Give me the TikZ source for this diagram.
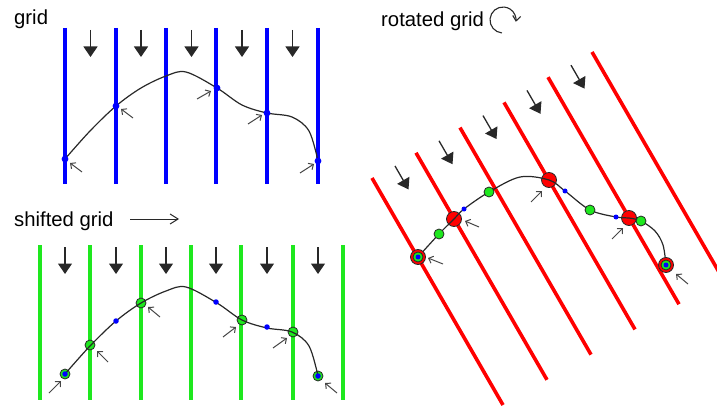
\documentclass[tikz,border=0pt]{standalone}
\usepackage{fontspec}
\setmainfont{Liberation Sans}
\usetikzlibrary{arrows.meta}
\definecolor{gblue}{RGB}{0,0,255}
\definecolor{ggreen}{RGB}{30,232,30}
\definecolor{gred}{RGB}{255,0,0}
\definecolor{gptr}{RGB}{70,70,70}
\definecolor{gink}{RGB}{40,40,40}
\begin{document}
\begin{tikzpicture}[x=1pt,y=-1pt,
  gridline/.style={line width=3.6pt},
  bluegrid/.style={gridline,draw=gblue},
  greengrid/.style={gridline,draw=ggreen},
  redgrid/.style={gridline,draw=gred},
  downarrow/.style={draw=gink,line width=1.3pt,-{Triangle[length=10.5pt,width=14pt]}},
  pointer/.style={draw=gptr,line width=1pt,-{Straight Barb[length=4pt,width=7.5pt]}},
  curveline/.style={draw=gink,line width=1.2pt},
  bluedot/.style={circle,fill=gblue,inner sep=0pt,minimum size=5.5pt},
  greendot/.style={circle,draw=gink,fill=ggreen,line width=0.8pt,inner sep=0pt,minimum size=10pt},
  reddot/.style={circle,draw=gink,fill=gred,line width=0.8pt,inner sep=0pt,minimum size=15pt},
  label/.style={anchor=base west,inner sep=0pt,font=\fontsize{20.3}{22}\selectfont}]
\useasboundingbox (0,0) rectangle (717,406);
\clip (0,0) rectangle (717,406);

% ---------------- labels
\node[label] (tgrid) at (14,25) {grid};
\node[label] (tshift) at (14,226.5) {shifted grid};
\node[label] (trot) at (381,26.5) {rotated grid};
\coordinate (sa) at (130,219);
\coordinate (sb) at (179,219);
\draw[draw=gink,line width=1pt,-{Straight Barb[length=8pt,width=10pt]}] (sa) -- (sb);
\draw[draw=gink,line width=1.1pt,-{Straight Barb[length=5pt,width=8pt]}]
  (503,20) ++(95:13) arc[start angle=95,end angle=368,radius=13];

\def\curvepts{(65,159) (90,131) (116,106) (141,88) (166,76) (186,72) (217,88) (242,105) (267,113) (292,117) (309,131) (318,161)}

% ---------------- grid (top left)
\foreach \x in {65,116,166,216,267,318} \draw[bluegrid] (\x,28) -- (\x,184);
\foreach \x in {90.5,141,191.5,242,292.5} \draw[downarrow] (\x,30) -- (\x,57);
\draw[curveline] plot[smooth,tension=0.55] coordinates {\curvepts};
\foreach \p/\n in {{(65,159)}/a1,{(116,106)}/a2,{(217,88)}/a3,{(267,113)}/a4,{(318,161)}/a5}
  \node[bluedot,minimum size=6.8pt] (\n) at \p {};
\draw[pointer] (82,172) -- (70,163);
\draw[pointer] (133,118) -- (121,109);
\draw[pointer] (197,99) -- (211,91);
\draw[pointer] (248,124) -- (262,115);
\draw[pointer] (300,173) -- (314,164);

% ---------------- shifted grid (bottom left)
\foreach \x in {40,90,141,191,241,293,343} \draw[greengrid] (\x,245) -- (\x,400);
\foreach \x in {65,116,166,216,267,318} \draw[downarrow] (\x,247) -- (\x,274);
\node[greendot] (b1) at (65,374) {};
\node[greendot] (b2) at (90,345) {};
\node[greendot] (b3) at (141,303) {};
\node[greendot] (b4) at (242,320) {};
\node[greendot] (b5) at (293,332) {};
\node[greendot] (b6) at (318,376) {};
\begin{scope}[shift={(0,215)}]
  \draw[curveline] plot[smooth,tension=0.55] coordinates {\curvepts};
\end{scope}
\node[bluedot] (c1) at (65,374) {};
\node[bluedot] (c2) at (116,321) {};
\node[bluedot] (c3) at (216,302) {};
\node[bluedot] (c4) at (267,327) {};
\node[bluedot] (c5) at (318,376) {};
\draw[pointer] (49,393) -- (61,381);
\draw[pointer] (108,362) -- (97,351);
\draw[pointer] (160,317) -- (148,307);
\draw[pointer] (223,337) -- (236,327);
\draw[pointer] (273,348) -- (287,338);
\draw[pointer] (337,393) -- (325,383);

% ---------------- rotated grid (right)
\foreach \i in {0,...,5}
  \draw[redgrid] ({372+44*\i},{178-25.2*\i}) -- ++(131,227);
\foreach \i in {0,...,4}
  \draw[downarrow] ({395+44*\i},{166-25.2*\i}) -- ++(13.5,23.4);
\node[reddot] (r1) at (454,219) {};
\node[reddot] (r2) at (549,180) {};
\node[reddot] (r3) at (629,218) {};
\draw[curveline] plot[smooth,tension=0.55] coordinates {(418,257) (439,234) (454,219) (464,209) (489,192) (520,177) (549,180) (565,191) (590,210) (616,217) (629,218) (641,221) (655,231) (663,245) (666,265)};
\node[reddot] (r0) at (418,257) {};
\node[reddot] (r4) at (666,265) {};
\foreach \p/\n in {{(439,234)}/g1,{(489,192)}/g2,{(590,210)}/g3,{(641,221)}/g4,{(418,257)}/g0,{(666,265)}/g5}
  \node[greendot] (\n) at \p {};
\foreach \p/\n in {{(464,209)}/d1,{(565,191)}/d2,{(616,217)}/d3,{(418,257)}/d0,{(666,265)}/d4}
  \node[bluedot,minimum size=5pt] (\n) at \p {};
\draw[pointer] (443,264) -- (428,258);
\draw[pointer] (479,227) -- (465,221);
\draw[pointer] (531,202) -- (542,191);
\draw[pointer] (612,239) -- (623,228);
\draw[pointer] (688,284) -- (676,274);
\end{tikzpicture}
\end{document}
